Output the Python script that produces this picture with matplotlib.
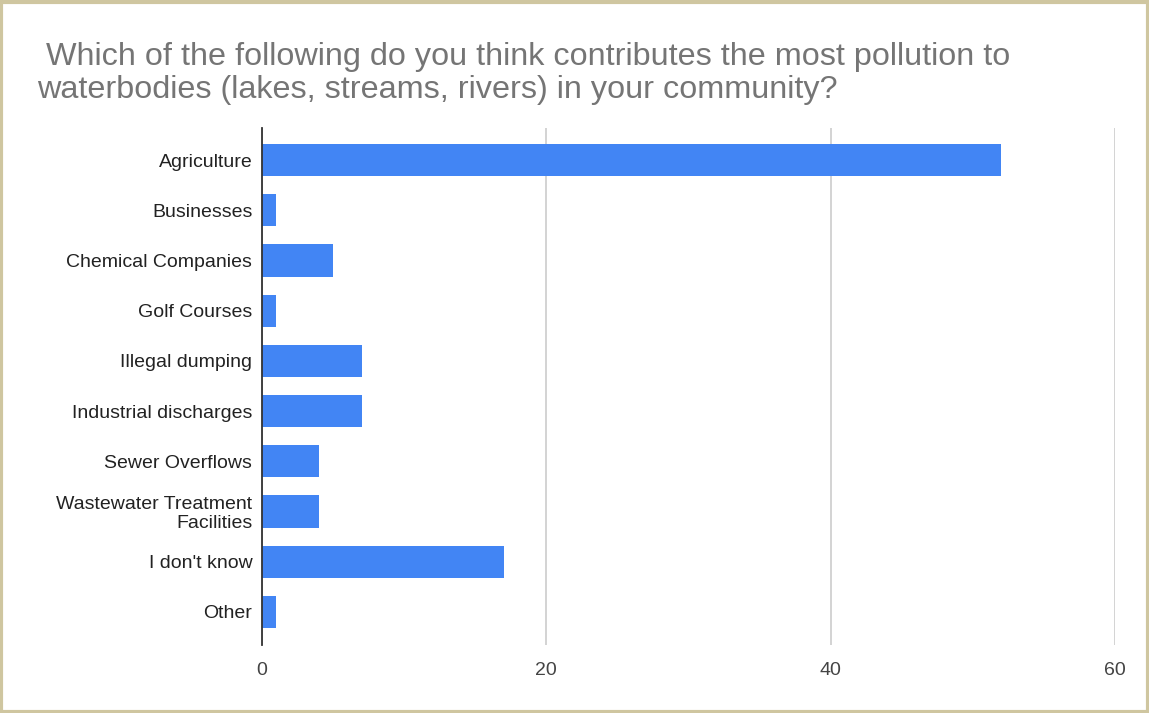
import matplotlib.pyplot as plt

# survey answers, top to bottom
categories = ["Agriculture", "Businesses", "Chemical Companies", "Golf Courses",
              "Illegal dumping", "Industrial discharges", "Sewer Overflows",
              "Wastewater Treatment\nFacilities", "I don't know", "Other"]
counts = [52, 1, 5, 1, 7, 7, 4, 4, 17, 1]
xticks = [0, 20, 40, 60]

title = (" Which of the following do you think contributes the most pollution to\n"
         "waterbodies (lakes, streams, rivers) in your community?")

plt.rcParams['font.family'] = ['Liberation Sans', 'DejaVu Sans']

W, H = 1149, 713
fig = plt.figure(figsize=(W / 100, H / 100), dpi=100)

# frame around the whole chart
fig.patches.append(plt.Rectangle((0.001, 0.002), 0.998, 0.995, transform=fig.transFigure,
                                 fill=False, edgecolor='#cfc6a0', linewidth=3))

ax = fig.add_axes([262 / W, 1 - 645 / H, (1115 - 262) / W, (645 - 128) / H])
y = list(range(len(categories)))
ax.barh(y, counts, height=0.64, color='#4285f4', zorder=3)

ax.set_xlim(0, 60)
ax.set_ylim(9.66, -0.64)
ax.set_xticks(xticks)
ax.set_yticks(y)
ax.set_yticklabels(categories, fontsize=14, color='#222222', linespacing=1.1)
ax.tick_params(axis='x', labelsize=14, labelcolor='#444444', length=0, pad=12)
ax.tick_params(axis='y', length=0, pad=7)

ax.grid(axis='x', color='#cccccc', linewidth=1.2, zorder=0)
for s in ['top', 'right', 'bottom']:
    ax.spines[s].set_visible(False)
ax.spines['left'].set_color('#333333')
ax.spines['left'].set_linewidth(1.3)
ax.spines['left'].set_zorder(4)

fig.text(37 / W, 1 - 98 / H, title, fontsize=23.3, color='#757575',
         ha='left', va='baseline', linespacing=1.12)

fig.savefig('out.png', dpi=100)
